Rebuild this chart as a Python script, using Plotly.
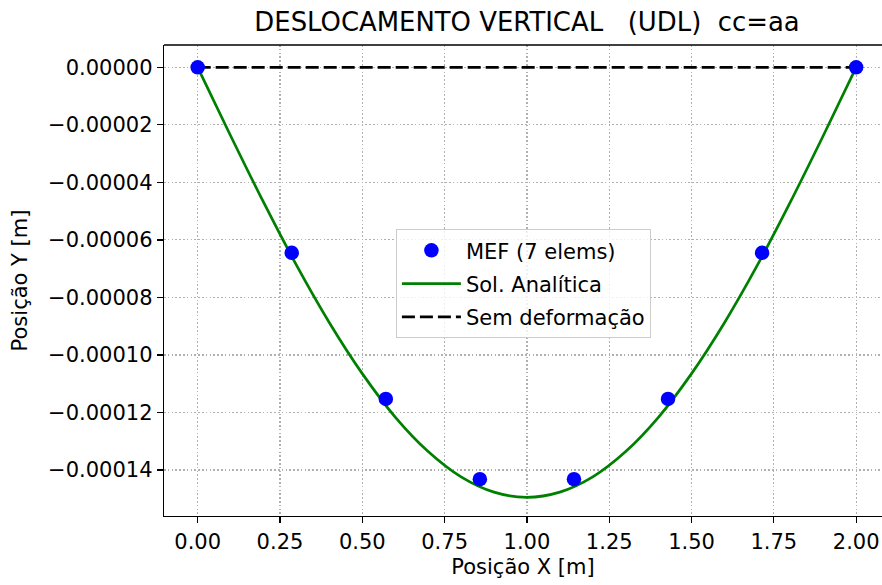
import plotly.graph_objects as go

# MEF (FEM) nodal results, 7 elements
mef_x = [0.0, 0.2857, 0.5714, 0.8571, 1.1429, 1.4286, 1.7143, 2.0]
mef_y = [0.0, -0.0000645, -0.0001153, -0.0001432, -0.0001432, -0.0001153, -0.0000645, 0.0]

# Analytical solution, every 0.1 m
ana_x = [0.0, 0.1, 0.2, 0.3, 0.4, 0.5, 0.6, 0.7, 0.8, 0.9, 1.0,
         1.1, 1.2, 1.3, 1.4, 1.5, 1.6, 1.7, 1.8, 1.9, 2.0]
ana_y = [0.0, -0.0000238, -0.0000469, -0.0000688, -0.0000888, -0.0001065,
         -0.0001216, -0.0001336, -0.0001424, -0.0001477, -0.0001495,
         -0.0001477, -0.0001424, -0.0001336, -0.0001216, -0.0001065,
         -0.0000888, -0.0000688, -0.0000469, -0.0000238, 0.0]

# Undeformed reference line
ref_x = [0.0, 2.0]
ref_y = [0.0, 0.0]

x_ticks = [0.0, 0.25, 0.5, 0.75, 1.0, 1.25, 1.5, 1.75, 2.0]
y_ticks = [0.0, -0.00002, -0.00004, -0.00006, -0.00008, -0.0001, -0.00012, -0.00014]

FONT = "DejaVu Sans"

fig = go.Figure()
fig.add_trace(go.Scatter(
    x=ana_x, y=ana_y, mode="lines", name="Sol. Analítica", legendgroup="b",
    line=dict(color="green", width=2.7, shape="spline"),
))
fig.add_trace(go.Scatter(
    x=ref_x, y=ref_y, mode="lines", name="Sem deformação", legendgroup="c",
    line=dict(color="black", width=2.7, dash="13px,5px"),
))
fig.add_trace(go.Scatter(
    x=mef_x, y=mef_y, mode="markers", name="MEF (7 elems)", legendgroup="a",
    marker=dict(color="blue", size=14.5, line=dict(width=0)),
))

# legend order: MEF, Sol. Analítica, Sem deformação
fig.data[2].legendrank = 1
fig.data[0].legendrank = 2
fig.data[1].legendrank = 3

axis_common = dict(
    showline=True, linecolor="black", linewidth=1.3, mirror=False,
    ticks="outside", ticklen=6, tickwidth=1.3, tickcolor="black",
    showgrid=True, gridcolor="#b0b0b0", gridwidth=1.2, griddash="1.5px,2.3px",
    zeroline=False, automargin=False,
    tickfont=dict(family=FONT, size=21, color="black"),
)

fig.update_layout(
    width=882, height=585,
    margin=dict(l=164, r=0, t=45, b=69, autoexpand=False),
    paper_bgcolor="white", plot_bgcolor="white",
    font=dict(family=FONT, size=21, color="black"),
    title=dict(text="DESLOCAMENTO VERTICAL   (UDL)  cc=aa",
               font=dict(family=FONT, size=25.9, color="black"),
               xref="container", x=527 / 882, xanchor="center",
               yref="container", y=1 - 22 / 585, yanchor="middle"),
    showlegend=True,
    legend=dict(x=0.323, y=0.609, xanchor="left", yanchor="top",
                bgcolor="rgba(255,255,255,0.8)", bordercolor="#cccccc", borderwidth=1,
                font=dict(family=FONT, size=21, color="black"),
                itemwidth=59, tracegroupgap=3),
    xaxis=dict(axis_common, range=[-0.1023, 2.0785], tickvals=x_ticks,
               tickformat=".2f",
               title=dict(text="Posição X [m]", standoff=6,
                          font=dict(family=FONT, size=21, color="black"))),
    yaxis=dict(axis_common, range=[-0.0001560, 0.00000775], tickvals=y_ticks,
               tickformat=".5f",
               title=dict(text="Posição Y [m]", standoff=14,
                          font=dict(family=FONT, size=21, color="black"))),
    shapes=[dict(type="line", xref="paper", yref="paper", x0=0, x1=1, y0=1, y1=1,
                 line=dict(color="black", width=1.3))],
)

fig.write_html(
    "out.html",
    config={"displayModeBar": False, "staticPlot": True},
    post_script="document.body.style.margin='0';document.body.style.padding='0';"
                "document.documentElement.style.overflow='hidden';",
)
